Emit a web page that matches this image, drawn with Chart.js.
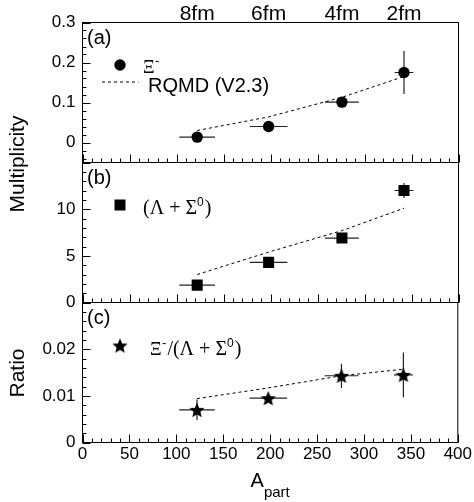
<!DOCTYPE html>
<html>
<head>
<meta charset="utf-8">
<script src="https://cdn.jsdelivr.net/npm/chart.js@4.4.1/dist/chart.umd.min.js"></script>
<style>
  html, body { margin: 0; padding: 0; background: #fff; }
  #wrap { position: relative; width: 474px; height: 502px; }
  #wrap canvas { position: absolute; left: 0; top: 0; }
</style>
</head>
<body>
<div id="wrap">
  <canvas id="panelA" width="474" height="502"></canvas>
  <canvas id="panelB" width="474" height="502"></canvas>
  <canvas id="panelC" width="474" height="502"></canvas>
</div>
<script>
// Number of participants in the four centrality bins
const aPart    = [122, 198, 276, 342];
const aPartErr = [19, 20, 18, 10];
// Impact parameter of each bin, shown above the top panel
const impactLabels = ['8fm', '6fm', '4fm', '2fm'];

// (a) Xi- multiplicity
const xiMult    = [0.0135, 0.040, 0.101, 0.175];
const xiMultErr = [0.004, 0.005, 0.010, 0.054];
const xiRqmd    = [0.030, 0.064, 0.113, 0.165];

// (b) Lambda + Sigma0 multiplicity
const lamMult    = [1.86, 4.3, 6.9, 12.0];
const lamMultErr = [0.3, 0.3, 0.4, 0.8];
const lamRqmd    = [3.0, 5.4, 7.7, 10.1];

// (c) Xi- / (Lambda + Sigma0)
const ratio    = [0.0070, 0.0095, 0.0143, 0.0145];
const ratioErr = [0.0022, 0.0006, 0.0026, 0.0048];
const ratioRqmd = [0.0094, 0.0117, 0.0143, 0.0157];

// Axis tick values
const yTicksA = [0, 0.1, 0.2, 0.3];
const yTicksB = [0, 5, 10];
const yTicksC = [0, 0.01, 0.02];
const xTicks  = [0, 50, 100, 150, 200, 250, 300, 350, 400];

const SANS  = "'Liberation Sans', Arial, Helvetica, sans-serif";
const SERIF = "'Liberation Serif', 'Times New Roman', serif";

// Filled five-pointed star used as a point style
function starImage(r) {
  const c = document.createElement('canvas');
  const s = Math.ceil(r * 2) + 2;
  c.width = c.height = s;
  const g = c.getContext('2d');
  g.translate(s / 2, s / 2 + r * 0.1);
  g.beginPath();
  for (let i = 0; i < 10; i++) {
    const rad = i % 2 ? r * 0.45 : r;
    const ang = -Math.PI / 2 + i * Math.PI / 5;
    g.lineTo(rad * Math.cos(ang), rad * Math.sin(ang));
  }
  g.closePath();
  g.fillStyle = '#000';
  g.fill();
  return c;
}
const STAR = starImage(8);

function drawMarker(ctx, style, x, y, size) {
  ctx.fillStyle = '#000';
  if (style === 'circle') {
    ctx.beginPath(); ctx.arc(x, y, size, 0, Math.PI * 2); ctx.fill();
  } else if (style === 'rect') {
    ctx.fillRect(x - size, y - size, 2 * size, 2 * size);
  } else {
    ctx.drawImage(STAR, x - STAR.width / 2, y - STAR.height / 2);
  }
}

// Draw a run of text pieces with different fonts / vertical offsets
function drawRich(ctx, x, y, parts) {
  ctx.textAlign = 'left';
  ctx.textBaseline = 'alphabetic';
  ctx.fillStyle = '#000';
  for (const p of parts) {
    ctx.font = p.font;
    ctx.fillText(p.t, x, y + (p.dy || 0));
    x += ctx.measureText(p.t).width + (p.gap || 0);
  }
}

function errorBarPlugin(xs, xErr, ys, yErr) {
  return {
    id: 'errorBars',
    beforeDatasetsDraw(chart) {
      const { ctx, scales: { x, y } } = chart;
      ctx.save();
      ctx.strokeStyle = '#222';
      ctx.lineWidth = 1.2;
      ctx.beginPath();
      xs.forEach((xv, i) => {
        const px = x.getPixelForValue(xv);
        const py = y.getPixelForValue(ys[i]);
        ctx.moveTo(x.getPixelForValue(xv - xErr[i]), py);
        ctx.lineTo(x.getPixelForValue(xv + xErr[i]), py);
        ctx.moveTo(px, y.getPixelForValue(ys[i] - yErr[i]));
        ctx.lineTo(px, y.getPixelForValue(ys[i] + yErr[i]));
      });
      ctx.stroke();
      ctx.restore();
    }
  };
}

// Box around the plot area with inward ticks on the left and bottom edges
function framePlugin(minorY, majorY) {
  return {
    id: 'frame',
    afterDraw(chart) {
      const { ctx, chartArea: a, scales: { x, y } } = chart;
      ctx.save();
      ctx.strokeStyle = '#000';
      ctx.lineWidth = 1;
      ctx.strokeRect(a.left, a.top, a.right - a.left, a.bottom - a.top);
      ctx.beginPath();
      for (let v = x.min; v <= x.max; v += 10) {
        const px = Math.round(x.getPixelForValue(v)) + 0.5;
        const len = v % 50 === 0 ? 8 : 4;
        ctx.moveTo(px, a.bottom);
        ctx.lineTo(px, a.bottom - len);
      }
      const i0 = Math.ceil(y.min / minorY - 1e-6);
      const i1 = Math.floor(y.max / minorY + 1e-6);
      for (let i = i0; i <= i1; i++) {
        const v = i * minorY;
        const r = v / majorY;
        const major = Math.abs(r - Math.round(r)) < 1e-6;
        const py = Math.round(y.getPixelForValue(v)) + 0.5;
        ctx.moveTo(a.left, py);
        ctx.lineTo(a.left + (major ? 8 : 4), py);
      }
      ctx.stroke();
      ctx.restore();
    }
  };
}

function yScale(min, max, ticks) {
  return {
    type: 'linear', min, max,
    afterBuildTicks: s => { s.ticks = ticks.map(v => ({ value: v })); },
    afterFit: s => { s.width = 82; },
    grid: { display: false, drawTicks: false },
    border: { display: false },
    ticks: {
      font: { family: SANS, size: 17 }, color: '#000', padding: 7,
      callback: (v, i) => String(ticks[i])
    }
  };
}

function makePanel(id, o) {
  const scales = {
    x: {
      type: 'linear', min: 0, max: 400, display: o.showX,
      afterBuildTicks: s => { s.ticks = xTicks.map(v => ({ value: v })); },
      afterFit: s => { s.height = o.showX ? 59.5 : 0; },
      grid: { display: false, drawTicks: false },
      border: { display: false },
      ticks: {
        font: { family: SANS, size: 17 }, color: '#000', padding: 2,
        maxRotation: 0, autoSkip: false,
        callback: (v, i) => String(xTicks[i])
      }
    },
    y: yScale(o.yMin, o.yMax, o.yTicks)
  };
  if (o.topAxis) {
    scales.xTop = {
      type: 'linear', position: 'top', min: 0, max: 400,
      afterBuildTicks: s => { s.ticks = aPart.map(v => ({ value: v })); },
      afterFit: s => { s.height = 22.5; },
      grid: { display: false, drawTicks: false },
      border: { display: false },
      ticks: {
        font: { family: SANS, size: 21 }, color: '#000', padding: -4,
        maxRotation: 0, autoSkip: false,
        callback: (v, i) => impactLabels[i]
      }
    };
  }
  return new Chart(document.getElementById(id), {
    type: 'scatter',
    data: {
      datasets: [
        {
          data: aPart.map((x, i) => ({ x, y: o.ys[i] })),
          pointStyle: o.style === 'star' ? STAR : o.style,
          pointRadius: o.radius, pointHoverRadius: o.radius,
          backgroundColor: '#000', borderColor: '#000', borderWidth: 0
        },
        {
          data: aPart.map((x, i) => ({ x, y: o.model[i] })),
          showLine: true, borderColor: '#000', borderWidth: 1,
          borderDash: [3, 3], pointRadius: 0, tension: 0
        }
      ]
    },
    options: {
      responsive: false, animation: false, events: [],
      layout: { padding: { left: 0.5, right: 15.5, top: o.padTop, bottom: o.padBottom } },
      plugins: { legend: { display: false }, tooltip: { enabled: false } },
      scales
    },
    plugins: [
      errorBarPlugin(aPart, aPartErr, o.ys, o.yErr),
      framePlugin(o.minorY, o.majorY),
      { id: 'annotations', afterDraw: chart => o.annotate(chart.ctx, chart.chartArea) }
    ]
  });
}

// (a) Xi- multiplicity
makePanel('panelA', {
  ys: xiMult, yErr: xiMultErr, model: xiRqmd,
  yMin: -0.05, yMax: 0.3, yTicks: yTicksA, minorY: 0.02, majorY: 0.1,
  style: 'circle', radius: 5.7, padTop: 0, padBottom: 339.5, showX: false, topAxis: true,
  annotate(ctx, a) {
    drawRich(ctx, a.left + 4.5, a.top + 21, [{ t: '(a)', font: `20px ${SANS}` }]);
    drawMarker(ctx, 'circle', a.left + 37.5, a.top + 42.5, 5.7);
    drawRich(ctx, a.left + 60.5, a.top + 50.5, [
      { t: 'Ξ', font: `18px ${SERIF}`, gap: 0.5 },
      { t: '-', font: `13px ${SANS}`, dy: -8 }
    ]);
    ctx.save();
    ctx.strokeStyle = '#000'; ctx.lineWidth = 1; ctx.setLineDash([3, 3]);
    ctx.beginPath();
    ctx.moveTo(a.left + 19.5, a.top + 59.5);
    ctx.lineTo(a.left + 56, a.top + 59.5);
    ctx.stroke();
    ctx.restore();
    drawRich(ctx, a.left + 65.5, a.top + 69.5, [{ t: 'RQMD (V2.3)', font: `20px ${SANS}` }]);
  }
});

// (b) Lambda + Sigma0 multiplicity
makePanel('panelB', {
  ys: lamMult, yErr: lamMultErr, model: lamRqmd,
  yMin: 0, yMax: 15, yTicks: yTicksB, minorY: 1, majorY: 5,
  style: 'rect', radius: 7.8, padTop: 162.5, padBottom: 199.5, showX: false,
  annotate(ctx, a) {
    drawRich(ctx, a.left + 4.5, a.top + 21, [{ t: '(b)', font: `20px ${SANS}` }]);
    drawMarker(ctx, 'rect', a.left + 37.5, a.top + 42.5, 5.5);
    drawRich(ctx, a.left + 60.5, a.top + 51.5, [
      { t: '(Λ + Σ', font: `20px ${SERIF}` },
      { t: '0', font: `12px ${SANS}`, dy: -8, gap: 1 },
      { t: ')', font: `20px ${SERIF}` }
    ]);
  }
});

// (c) Ratio, plus the shared axis titles
makePanel('panelC', {
  ys: ratio, yErr: ratioErr, model: ratioRqmd,
  yMin: 0, yMax: 0.03, yTicks: yTicksC, minorY: 0.002, majorY: 0.01,
  style: 'star', radius: 8, padTop: 302.5, padBottom: 0, showX: true,
  annotate(ctx, a) {
    drawRich(ctx, a.left + 4.5, a.top + 21, [{ t: '(c)', font: `20px ${SANS}` }]);
    drawMarker(ctx, 'star', a.left + 37.5, a.top + 43, 8);
    drawRich(ctx, a.left + 67.5, a.top + 52.5, [
      { t: 'Ξ', font: `18px ${SERIF}`, gap: 0.5 },
      { t: '-', font: `13px ${SANS}`, dy: -8, gap: 1 },
      { t: '/(Λ + Σ', font: `20px ${SERIF}` },
      { t: '0', font: `12px ${SANS}`, dy: -8, gap: 1 },
      { t: ')', font: `20px ${SERIF}` }
    ]);

    // Axis titles
    ctx.save();
    ctx.fillStyle = '#000';
    ctx.font = `21px ${SANS}`;
    ctx.textAlign = 'center';
    ctx.textBaseline = 'middle';
    ctx.translate(18, 164);
    ctx.rotate(-Math.PI / 2);
    ctx.fillText('Multiplicity', 0, 0);
    ctx.restore();

    ctx.save();
    ctx.fillStyle = '#000';
    ctx.font = `21px ${SANS}`;
    ctx.textAlign = 'center';
    ctx.textBaseline = 'middle';
    ctx.translate(18, 373);
    ctx.rotate(-Math.PI / 2);
    ctx.fillText('Ratio', 0, 0);
    ctx.restore();

    ctx.font = `20px ${SANS}`;
    const wA = ctx.measureText('A').width;
    ctx.font = `15px ${SANS}`;
    const wSub = ctx.measureText('part').width;
    const x0 = (a.left + a.right) / 2 - (wA + wSub) / 2;
    drawRich(ctx, x0, 487, [
      { t: 'A', font: `20px ${SANS}` },
      { t: 'part', font: `15px ${SANS}`, dy: 10 }
    ]);
  }
});
</script>
</body>
</html>
